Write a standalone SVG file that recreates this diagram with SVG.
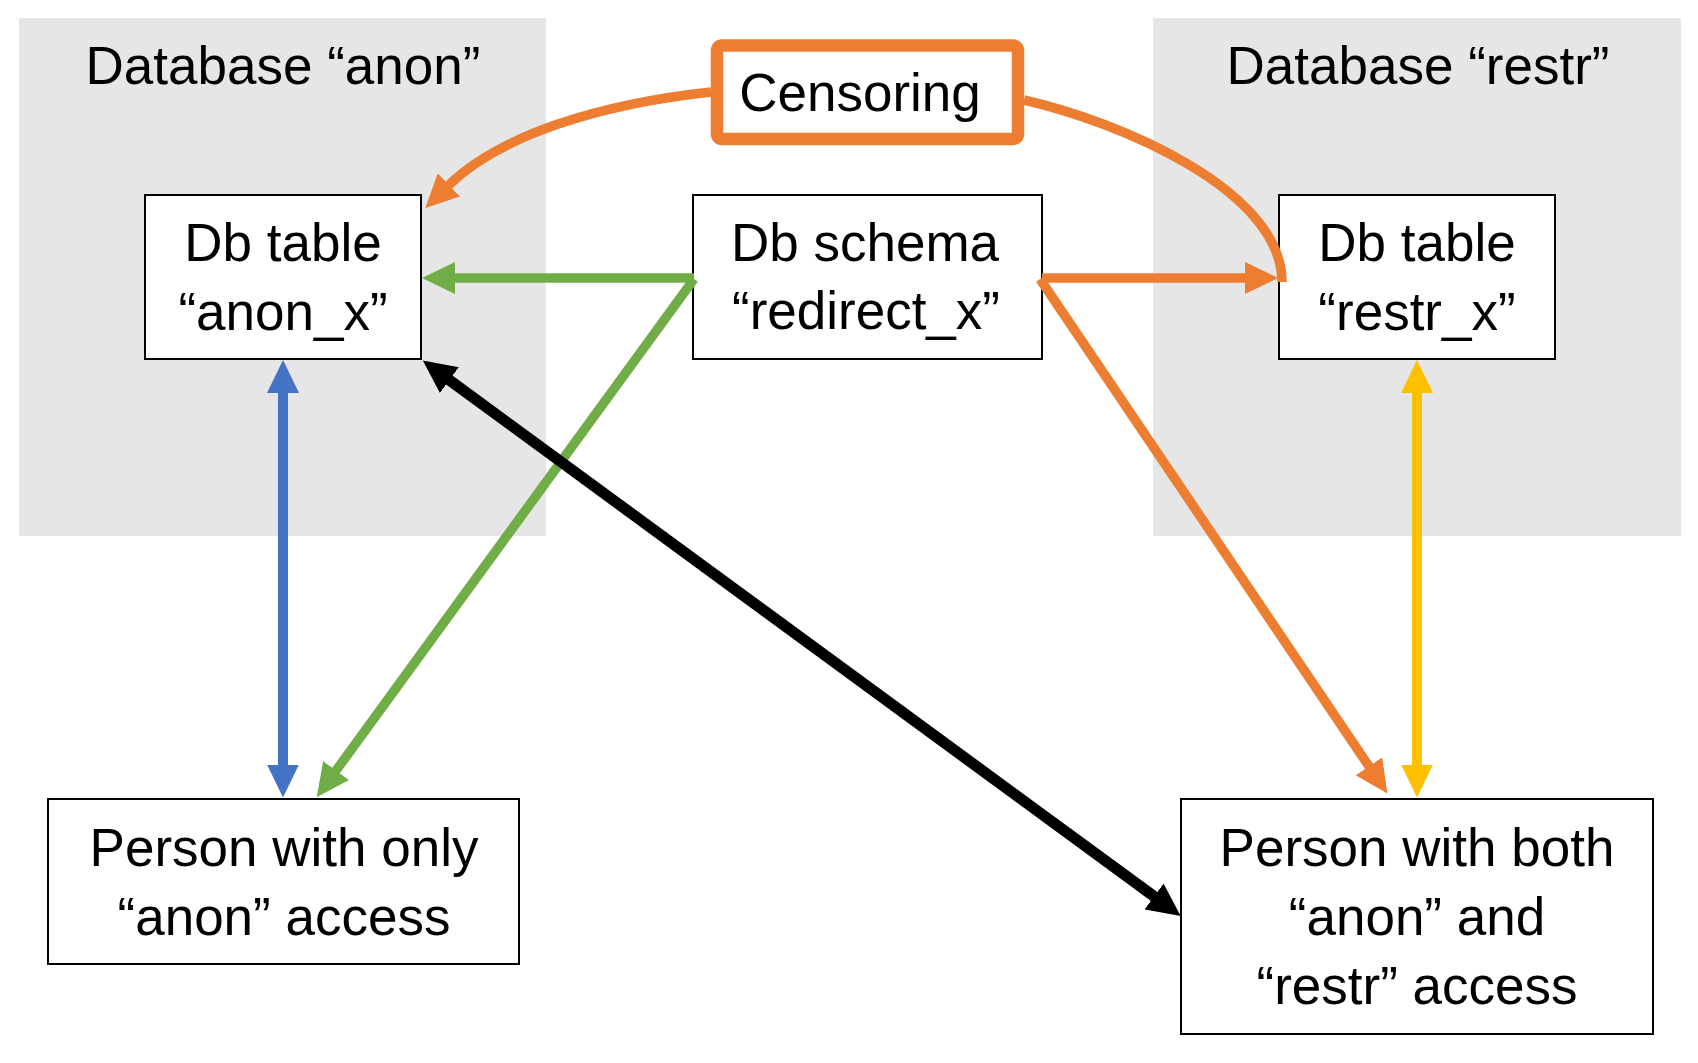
<svg xmlns="http://www.w3.org/2000/svg" width="1698" height="1063" viewBox="0 0 1698 1063">
  <style>
    .bg { fill: #E6E6E6; stroke: none; }
    .node { fill: #FFFFFF; stroke: #000000; stroke-width: 2; }
    .cens { fill: #FFFFFF; stroke: #ED7D31; stroke-width: 12.5; }
    text { font-family: "Liberation Sans", Arial, sans-serif; font-size: 53px; fill: #000000; text-anchor: middle; }
    .c { fill: none; stroke-linecap: butt; }
    .blue { stroke: #4472C4; stroke-width: 10; }
    .yellow { stroke: #FFC000; stroke-width: 10; }
    .green { stroke: #70AD47; stroke-width: 9.5; }
    .orange { stroke: #ED7D31; stroke-width: 9.5; }
    .black { stroke: #000000; stroke-width: 11; }
  </style>
  <defs>
    <marker id="ah-blue" markerUnits="userSpaceOnUse" viewBox="0 0 33 32" markerWidth="33" markerHeight="32" refX="1" refY="16" orient="auto-start-reverse">
      <path d="M0,0 L33,16 L0,32 z" fill="#4472C4"/>
    </marker>
    <marker id="ah-yellow" markerUnits="userSpaceOnUse" viewBox="0 0 33 32" markerWidth="33" markerHeight="32" refX="1" refY="16" orient="auto-start-reverse">
      <path d="M0,0 L33,16 L0,32 z" fill="#FFC000"/>
    </marker>
    <marker id="ah-green" markerUnits="userSpaceOnUse" viewBox="0 0 33 32" markerWidth="33" markerHeight="32" refX="1" refY="16" orient="auto-start-reverse">
      <path d="M0,0 L33,16 L0,32 z" fill="#70AD47"/>
    </marker>
    <marker id="ah-orange" markerUnits="userSpaceOnUse" viewBox="0 0 33 32" markerWidth="33" markerHeight="32" refX="1" refY="16" orient="auto-start-reverse">
      <path d="M0,0 L33,16 L0,32 z" fill="#ED7D31"/>
    </marker>
    <marker id="ah-black" markerUnits="userSpaceOnUse" viewBox="0 0 33 32" markerWidth="33" markerHeight="32" refX="1" refY="16" orient="auto-start-reverse">
      <path d="M0,0 L33,16 L0,32 z" fill="#000000"/>
    </marker>
  </defs>

  <rect width="1698" height="1063" fill="#FFFFFF"/>

  <g id="database-anon">
    <rect class="bg" x="19" y="18" width="527" height="518"/>
    <text x="283" y="84">Database “anon”</text>
  </g>
  <g id="database-restr">
    <rect class="bg" x="1153" y="18" width="528" height="518"/>
    <text x="1418" y="84">Database “restr”</text>
  </g>

  <g id="censoring">
    <rect class="cens" x="717" y="45.5" width="301" height="93.5" rx="5"/>
    <text x="860" y="111">Censoring</text>
  </g>

  <g id="db-table-anon">
    <rect class="node" x="145" y="195" width="276" height="164"/>
    <text x="283" y="261">Db table</text>
    <text x="283" y="330">“anon_x”</text>
  </g>

  <g id="db-schema-redirect">
    <rect class="node" x="693" y="195" width="349" height="164"/>
    <text x="865" y="261">Db schema</text>
    <text x="866" y="329">“redirect_x”</text>
  </g>

  <g id="db-table-restr">
    <rect class="node" x="1279" y="195" width="276" height="164"/>
    <text x="1417" y="261">Db table</text>
    <text x="1417" y="330">“restr_x”</text>
  </g>

  <g id="person-anon">
    <rect class="node" x="48" y="799" width="471" height="165"/>
    <text x="284" y="866">Person with only</text>
    <text x="284" y="935">“anon” access</text>
  </g>

  <g id="person-both">
    <rect class="node" x="1181" y="799" width="472" height="235"/>
    <text x="1417" y="866">Person with both</text>
    <text x="1417" y="935">“anon” and</text>
    <text x="1417" y="1004">“restr” access</text>
  </g>

  <g id="connectors">
    <path class="c orange" d="M711,92 C600,104 500,135 448.2,185.6" marker-end="url(#ah-orange)"/>
    <path class="c orange" d="M1024,100 C1120,122 1282,190 1282,282"/>
    <path class="c green" d="M694,278 L454,278" marker-end="url(#ah-green)"/>
    <path class="c green" d="M694,279 L335.5,771.3" marker-end="url(#ah-green)"/>
    <path class="c orange" d="M1042,278 L1246,278" marker-end="url(#ah-orange)"/>
    <path class="c orange" d="M1040,279 L1369.5,767.1" marker-end="url(#ah-orange)"/>
    <path class="c blue" d="M283,392 L283,765.5" marker-start="url(#ah-blue)" marker-end="url(#ah-blue)"/>
    <path class="c yellow" d="M1417,392 L1417,765.5" marker-start="url(#ah-yellow)" marker-end="url(#ah-yellow)"/>
    <path class="c black" d="M448.6,379.5 L1154.9,897" marker-start="url(#ah-black)" marker-end="url(#ah-black)"/>
  </g>
</svg>
